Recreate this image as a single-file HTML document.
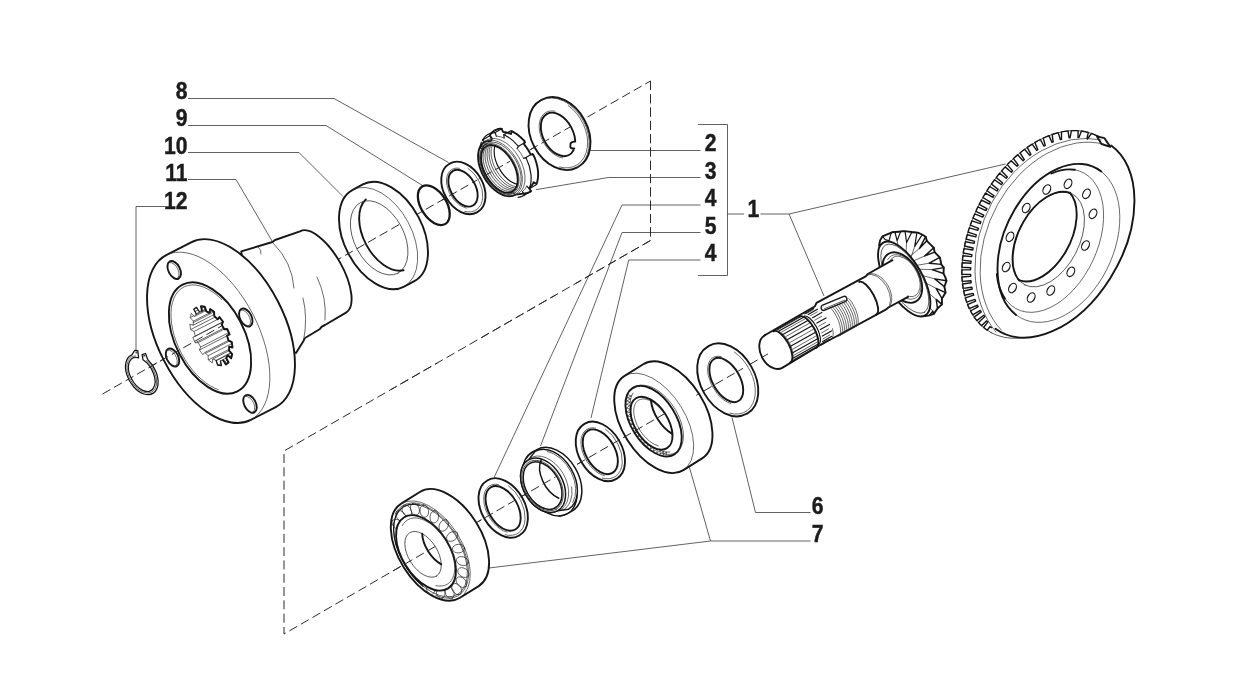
<!DOCTYPE html>
<html><head><meta charset="utf-8"><title>Exploded view</title>
<style>
html,body{margin:0;padding:0;background:#fff}
svg{display:block}
.k{stroke:#161616;stroke-width:1.9;fill:none;stroke-linejoin:round;stroke-linecap:round}
.s5 .k{stroke-width:1.5}
.m{stroke:#161616;stroke-width:1.2;fill:none;stroke-linejoin:round;stroke-linecap:round}
.t{stroke:#2a2a2a;stroke-width:.7;fill:none;stroke-linejoin:round;stroke-linecap:round}
.l{stroke:#3a3a3a;stroke-width:.8;fill:none}
.d{stroke:#2a2a2a;stroke-width:1;fill:none;stroke-dasharray:9 4.3}
.dt{stroke:#2a2a2a;stroke-width:.8;fill:none;stroke-dasharray:8 4}
text{filter:grayscale(1);font-family:"Liberation Sans",sans-serif;font-weight:bold;fill:#1c1c1c;stroke:#1c1c1c;stroke-width:.45}
</style></head><body>
<svg width="1236" height="680" viewBox="0 0 1236 680">
<rect width="1236" height="680" fill="#fff"/>
<path class="d" d="M102.5 394L650.5 81"/>
<path class="d" d="M650.5 81L650.5 240.5L284 451L284 634L770 352.7"/>
<path class="l" d="M188 98.5L334 98.5L448.5 162.5"/>
<path class="l" d="M188 125.5L326 125.5L424 186.5"/>
<path class="l" d="M188 152.5L299 152.5L343 196.5"/>
<path class="l" d="M188 179.5L236 179.5L273.5 243.5"/>
<path class="l" d="M165 206.5L136 206.5L136 351"/>
<path class="l" d="M700.5 150.5L590 150.5"/>
<path class="l" d="M700.5 177.5L608.3 177.5L535.8 189.7"/>
<path class="l" d="M700.5 205L622 205L494.3 477"/>
<path class="l" d="M700.5 232.5L622 232.5L540.5 446"/>
<path class="l" d="M700.5 260L628.7 260L591 418"/>
<path class="l" d="M698 124.5L727.5 124.5L727.5 275.5L698 275.5"/>
<path class="l" d="M727.5 214L744 214"/>
<path class="l" d="M760.5 214L789 214L1005.5 164"/>
<path class="l" d="M789 214L824 296"/>
<path class="l" d="M810.5 512.5L755.5 512.5L732 417.5"/>
<path class="l" d="M810.5 541L710.5 541L689.5 467.5"/>
<path class="l" d="M710.5 541L489 568"/>
<text transform="translate(187.5 98.5) scale(0.88 1)" text-anchor="end" font-size="24">8</text>
<text transform="translate(187.5 126) scale(0.88 1)" text-anchor="end" font-size="24">9</text>
<text transform="translate(187.5 153.5) scale(0.88 1)" text-anchor="end" font-size="24">10</text>
<text transform="translate(187.5 181) scale(0.88 1)" text-anchor="end" font-size="24">11</text>
<text transform="translate(187.5 208.5) scale(0.88 1)" text-anchor="end" font-size="24">12</text>
<text transform="translate(704.8 151) scale(0.88 1)" text-anchor="start" font-size="24">2</text>
<text transform="translate(704.8 178.5) scale(0.88 1)" text-anchor="start" font-size="24">3</text>
<text transform="translate(704.8 206) scale(0.88 1)" text-anchor="start" font-size="24">4</text>
<text transform="translate(704.8 233.5) scale(0.88 1)" text-anchor="start" font-size="24">5</text>
<text transform="translate(704.8 261) scale(0.88 1)" text-anchor="start" font-size="24">4</text>
<text transform="translate(747.6 216.5) scale(0.88 1)" text-anchor="start" font-size="24">1</text>
<text transform="translate(811.8 514) scale(0.88 1)" text-anchor="start" font-size="24">6</text>
<text transform="translate(811.8 541.5) scale(0.88 1)" text-anchor="start" font-size="24">7</text>
<path class="k" style="fill:#fff" d="M541 100.2A38.2 27.8 62 0 0 534.4 147A38.2 27.8 62 0 0 576.8 167.6L578 167A38.2 27.8 62 0 0 584.6 120.2A38.2 27.8 62 0 0 542.1 99.6Z"/>
<path class="t" d="M576.8 167.6A38.2 27.8 62 0 0 583.4 120.8A38.2 27.8 62 0 0 541 100.2"/>
<path class="t" d="M559.5 167A36 26.2 62 0 0 568.2 105.6"/>
<ellipse class="k" style="fill:#fff;" cx="558" cy="134.4" rx="23.3" ry="15" transform="rotate(62 558 134.4)"/>
<path class="t" d="M555 111.2A25.3 16.6 62 0 0 539.5 131A25.3 16.6 62 0 0 562.6 157.9"/>
<path d="M576.7 141.5 L571.2 142.5 L570.2 148.4 L575.7 149.4 Z" style="fill:#fff;stroke:none"/>
<path class="k" d="M575.2 141.5 Q569.7 142 570.5 145 Q569.2 148.9 574.2 148.4"/>
<path class="k" style="fill:#fff" d="M449.1 164A27.9 19.3 60 0 0 446.3 197.8A27.9 19.3 60 0 0 476.9 212.4L477.7 211.9A27.9 19.3 60 0 0 480.5 178.1A27.9 19.3 60 0 0 449.8 163.6Z"/>
<path class="t" d="M464.7 211.4A25.6 17.6 60 0 0 468.1 168.3"/>
<ellipse class="k" style="fill:#fff;" cx="463" cy="188.2" rx="20" ry="12.4" transform="rotate(60 463 188.2)"/>
<path class="t" d="M459.4 168.3A22 14 60 0 0 446.8 184.8A22 14 60 0 0 466.3 208.3"/>
<ellipse class="k" style="stroke-width:2.3;" cx="433.8" cy="205.2" rx="22" ry="12.8" transform="rotate(58 433.8 205.2)"/>
<path class="k" style="fill:#fff" d="M707.8 346.6A38.8 26.4 60 0 0 704.3 393.4A38.8 26.4 60 0 0 746.6 413.8L747.7 413.2A38.8 26.4 60 0 0 751.2 366.4A38.8 26.4 60 0 0 708.9 345.9Z"/>
<path class="t" d="M729.9 413.2A36.5 24.7 60 0 0 734.3 352"/>
<ellipse class="k" style="fill:#fff;" cx="726.3" cy="380" rx="24.3" ry="13.6" transform="rotate(60 726.3 380)"/>
<path class="t" d="M721.3 356.6A26.3 15.2 60 0 0 708.2 375.3A26.3 15.2 60 0 0 730.9 403.6"/>
<path class="k" style="fill:#fff" d="M584.1 424.1A31.8 21.2 60 0 0 581.6 462.2A31.8 21.2 60 0 0 615.9 479.1L616.7 478.7A31.8 21.2 60 0 0 619.1 440.6A31.8 21.2 60 0 0 584.9 423.6Z"/>
<path class="t" d="M602.4 478.1A29.5 19.5 60 0 0 605.4 429"/>
<ellipse class="k" style="fill:#fff;" cx="600.3" cy="451.8" rx="24.4" ry="14.6" transform="rotate(60 600.3 451.8)"/>
<path class="t" d="M595.7 428.1A26.4 16.2 60 0 0 581.4 447.5A26.4 16.2 60 0 0 604.5 475.8"/>
<path class="k" style="fill:#fff" d="M486.9 480.7A31.8 21.2 60 0 0 484.4 518.8A31.8 21.2 60 0 0 518.7 535.7L519.5 535.3A31.8 21.2 60 0 0 521.9 497.1A31.8 21.2 60 0 0 487.7 480.2Z"/>
<path class="t" d="M505.2 534.7A29.5 19.5 60 0 0 508.2 485.6"/>
<ellipse class="k" style="fill:#fff;" cx="503.1" cy="508.4" rx="24.4" ry="14.6" transform="rotate(60 503.1 508.4)"/>
<path class="t" d="M498.5 484.6A26.4 16.2 60 0 0 484.2 504.1A26.4 16.2 60 0 0 507.3 532.3"/>
<path class="k" style="fill:#fff" d="M352.7 189.8A54.8 33.8 62 0 0 348.6 254.1A54.8 33.8 62 0 0 404.1 286.6L414.3 281.2A54.8 33.8 62 0 0 418.4 216.9A54.8 33.8 62 0 0 362.8 184.4Z"/>
<path class="t" d="M404.1 286.6A54.8 33.8 62 0 0 408.2 222.3A54.8 33.8 62 0 0 352.7 189.8"/>
<ellipse class="t" style="fill:#fff;" cx="379.2" cy="237.9" rx="40" ry="24.8" transform="rotate(62 379.2 237.9)"/>
<path class="k" d="M365.8 199.4A40.8 25.4 62 0 0 403.5 270.3"/>
<path class="k" style="fill:#fff" d="M241.3 251.3L272.5 242L275 240L300 231.4A46.7 19.5 60.5 0 1 340 262.4A46.7 19.5 60.5 0 1 346 312.6L325 325Q321 326.5 320 329L307.5 336.5Q304 338 303.5 341L296 353L250 330Z"/>
<path class="t" d="M273.5 243.5Q292 262 294 288"/>
<path class="t" d="M258 247Q262 250 261 254"/>
<path class="t" d="M317 277Q327 298 325 320"/>
<path class="t" d="M303.5 341Q308 318 303 298"/>
<path class="k" style="fill:#fff" d="M166.2 255.1A92.6 50.2 62.8 0 0 163.9 360.4A92.6 50.2 62.8 0 0 250.8 419.9L275.7 407.1A92.6 50.2 62.8 0 0 278.1 301.8A92.6 50.2 62.8 0 0 191.1 242.3Z"/>
<path class="t" d="M250.8 419.9A92.6 50.2 62.8 0 0 253.1 314.6A92.6 50.2 62.8 0 0 166.2 255.1"/>
<ellipse class="k" cx="210" cy="338" rx="60" ry="34.5" transform="rotate(62.8 210 338)"/>
<path class="t" d="M221.9 299.6A57.5 32.5 62.8 0 0 171 312.3A57.5 32.5 62.8 0 0 218.3 389.7"/>
<ellipse class="k" style="fill:#fff;" cx="174.2" cy="270" rx="9.6" ry="5.8" transform="rotate(62.8 174.2 270)"/>
<path class="t" d="M176.1 279.1A9 5.2 62.8 0 0 178.1 269.8A9 5.2 62.8 0 0 169.6 262.5"/>
<ellipse class="k" style="fill:#fff;" cx="245.8" cy="317.5" rx="9.6" ry="5.8" transform="rotate(62.8 245.8 317.5)"/>
<path class="t" d="M247.6 326.6A9 5.2 62.8 0 0 249.6 317.3A9 5.2 62.8 0 0 241.1 310"/>
<ellipse class="k" style="fill:#fff;" cx="172.5" cy="357.5" rx="9.6" ry="5.8" transform="rotate(62.8 172.5 357.5)"/>
<path class="t" d="M174.3 366.6A9 5.2 62.8 0 0 176.4 357.3A9 5.2 62.8 0 0 167.9 350"/>
<ellipse class="k" style="fill:#fff;" cx="250" cy="403.8" rx="9.6" ry="5.8" transform="rotate(62.8 250 403.8)"/>
<path class="t" d="M251.8 412.8A9 5.2 62.8 0 0 253.9 403.6A9 5.2 62.8 0 0 245.4 396.3"/>
<clipPath id="splc"><path d="M225.9 364.5L225.9 364.5L228.6 362.5L226.2 358L227.8 355.4L231.2 358.3L231.2 358.3L232.2 354.2L229.1 350.6L229.2 346.6L232.5 347.5L232.5 347.5L231.8 342.2L228.4 340.3L227 335.6L229.6 334.5L229.6 334.5L227.2 329L224.3 329.2L221.7 324.8L223 321.8L223 321.8L219.5 317.1L217.6 319.3L214.3 316.1L214.1 311.8L214.1 311.8L210.1 309L209.6 312.8L206.3 311.4L204.7 306.6L204.7 306.6L201 306.2L202 310.8L199.2 311.5L196.5 307.3L196.5 307.3L193.8 309.3L196.2 313.8L194.6 316.4L191.2 313.5L191.2 313.5L190.2 317.6L193.3 321.2L193.2 325.2L189.9 324.3L189.9 324.3L190.6 329.6L194 331.5L195.4 336.2L192.8 337.3L192.8 337.3L195.2 342.8L198.1 342.6L200.7 347L199.4 350L199.4 350L202.9 354.7L204.8 352.5L208.1 355.7L208.3 360L208.3 360L212.3 362.8L212.8 359L216.1 360.4L217.7 365.2L217.7 365.2L221.4 365.6L220.4 361L223.2 360.3Z"/></clipPath>
<path class="t" style="fill:#fff" d="M225.9 364.5L225.9 364.5L228.6 362.5L226.2 358L227.8 355.4L231.2 358.3L231.2 358.3L232.2 354.2L229.1 350.6L229.2 346.6L232.5 347.5L232.5 347.5L231.8 342.2L228.4 340.3L227 335.6L229.6 334.5L229.6 334.5L227.2 329L224.3 329.2L221.7 324.8L223 321.8L223 321.8L219.5 317.1L217.6 319.3L214.3 316.1L214.1 311.8L214.1 311.8L210.1 309L209.6 312.8L206.3 311.4L204.7 306.6L204.7 306.6L201 306.2L202 310.8L199.2 311.5L196.5 307.3L196.5 307.3L193.8 309.3L196.2 313.8L194.6 316.4L191.2 313.5L191.2 313.5L190.2 317.6L193.3 321.2L193.2 325.2L189.9 324.3L189.9 324.3L190.6 329.6L194 331.5L195.4 336.2L192.8 337.3L192.8 337.3L195.2 342.8L198.1 342.6L200.7 347L199.4 350L199.4 350L202.9 354.7L204.8 352.5L208.1 355.7L208.3 360L208.3 360L212.3 362.8L212.8 359L216.1 360.4L217.7 365.2L217.7 365.2L221.4 365.6L220.4 361L223.2 360.3Z"/>
<g clip-path="url(#splc)">
<path class="t" d="M193.8 309.3L247.2 281.8"/>
<path class="t" d="M196.2 313.8L249.5 286.4"/>
<path class="t" d="M194.6 316.4L247.9 289"/>
<path class="t" d="M191.2 313.5L244.6 286.1"/>
<path class="t" d="M190.2 317.6L243.5 290.2"/>
<path class="t" d="M193.3 321.2L246.7 293.7"/>
<path class="t" d="M193.2 325.2L246.5 297.8"/>
<path class="t" d="M189.9 324.3L243.3 296.8"/>
<path class="t" d="M190.6 329.6L244 302.2"/>
<path class="t" d="M194 331.5L247.4 304"/>
<path class="t" d="M195.4 336.2L248.7 308.7"/>
<path class="t" d="M192.8 337.3L246.2 309.9"/>
<path class="t" d="M195.2 342.8L248.6 315.4"/>
<path class="t" d="M198.1 342.6L251.5 315.2"/>
<path class="t" d="M200.7 347L254.1 319.6"/>
<path class="t" d="M199.4 350L252.8 322.6"/>
<path class="t" d="M202.9 354.7L256.3 327.3"/>
<path class="t" d="M204.8 352.5L258.2 325"/>
<path class="t" d="M208.1 355.7L261.5 328.3"/>
<path class="t" d="M208.3 360L261.6 332.5"/>
<path class="t" d="M212.3 362.8L265.7 335.4"/>
<path class="t" d="M212.8 359L266.1 331.6"/>
<path class="t" d="M216.1 360.4L269.5 333"/>
<path class="t" d="M217.7 365.2L271.1 337.7"/>
<path class="t" d="M221.4 365.6L274.8 338.2"/>
<path class="t" d="M220.4 361L273.8 333.6"/>
</g>
<path class="k" d="M223.2 360.3L225.9 364.5L225.9 364.5L228.6 362.5L226.2 358L227.8 355.4L231.2 358.3L231.2 358.3L232.2 354.2L229.1 350.6L229.2 346.6L232.5 347.5L232.5 347.5L231.8 342.2L228.4 340.3L227 335.6L229.6 334.5L229.6 334.5L227.2 329L224.3 329.2L221.7 324.8L223 321.8L223 321.8L219.5 317.1L217.6 319.3L214.3 316.1L214.1 311.8L214.1 311.8L210.1 309L209.6 312.8L206.3 311.4L204.7 306.6L204.7 306.6L201 306.2L202 310.8"/>
<path class="m" d="M199.2 311.5L196.5 307.3L196.5 307.3L193.8 309.3L196.2 313.8"/>
<path class="m" d="M216.1 360.4L217.7 365.2L217.7 365.2L221.4 365.6L220.4 361"/>
<path class="k" style="fill:#fff" d="M624.6 375.9A55.5 31.6 58 0 0 627.2 439.7A55.5 31.6 58 0 0 683.4 470.1L702.1 458.4A55.5 31.6 58 0 0 699.5 394.6A55.5 31.6 58 0 0 643.2 364.3Z"/>
<path class="t" d="M683.4 470.1A55.5 31.6 58 0 0 680.8 406.3A55.5 31.6 58 0 0 624.6 375.9"/>
<ellipse class="k" style="fill:#fff;" cx="653.6" cy="421.1" rx="39.2" ry="22.4" transform="rotate(58 653.6 421.1)"/>
<path class="t" d="M632.9 393.1A36 20.4 58 0 0 669.7 452.1"/>
<path class="t" d="M661.9 453.3A38.6 22 58 0 0 679.1 417A38.6 22 58 0 0 633.8 388.2"/>
<path class="t" d="M628.5 394.9L631.3 396"/>
<path class="t" d="M631.3 396L627.5 397.7"/>
<path class="t" d="M627.5 397.7L630.4 398.9"/>
<path class="t" d="M630.4 398.9L626.8 400.9"/>
<path class="t" d="M626.8 400.9L630 402.1"/>
<path class="t" d="M630 402.1L626.5 404.4"/>
<path class="t" d="M626.5 404.4L629.9 405.5"/>
<path class="t" d="M629.9 405.5L626.6 408.1"/>
<path class="t" d="M626.6 408.1L630.3 409.2"/>
<path class="t" d="M630.3 409.2L627.2 412"/>
<path class="t" d="M627.2 412L631 413"/>
<path class="t" d="M631 413L628.1 416.1"/>
<path class="t" d="M628.1 416.1L632 417"/>
<path class="t" d="M632 417L629.4 420.2"/>
<path class="t" d="M629.4 420.2L633.5 420.9"/>
<path class="t" d="M633.5 420.9L631.1 424.4"/>
<path class="t" d="M631.1 424.4L635.2 424.9"/>
<path class="t" d="M635.2 424.9L633.1 428.5"/>
<path class="t" d="M633.1 428.5L637.3 428.8"/>
<path class="t" d="M637.3 428.8L635.4 432.5"/>
<path class="t" d="M635.4 432.5L639.6 432.5"/>
<path class="t" d="M639.6 432.5L637.9 436.3"/>
<path class="t" d="M637.9 436.3L642.2 436.1"/>
<path class="t" d="M642.2 436.1L640.8 439.9"/>
<path class="t" d="M640.8 439.9L645 439.4"/>
<path class="t" d="M645 439.4L643.8 443.2"/>
<path class="t" d="M643.8 443.2L647.9 442.4"/>
<path class="t" d="M647.9 442.4L646.9 446.2"/>
<path class="t" d="M646.9 446.2L651 445.1"/>
<path class="t" d="M651 445.1L650.2 448.8"/>
<path class="t" d="M650.2 448.8L654.1 447.4"/>
<path class="t" d="M654.1 447.4L653.5 451"/>
<path class="t" d="M653.5 451L657.3 449.3"/>
<path class="t" d="M657.3 449.3L656.8 452.8"/>
<path class="t" d="M656.8 452.8L660.4 450.8"/>
<path class="t" d="M660.4 450.8L660 454"/>
<path class="t" d="M660 454L663.5 451.8"/>
<path class="t" d="M663.5 451.8L663.2 454.8"/>
<path class="t" d="M663.2 454.8L666.5 452.3"/>
<path class="t" d="M666.5 452.3L666.2 455.1"/>
<ellipse class="k" style="fill:#fff;" cx="651.5" cy="423.2" rx="29.4" ry="16.6" transform="rotate(58 651.5 423.2)"/>
<path class="t" d="M662.4 411A26.4 14.8 58 0 0 633.8 408.8A26.4 14.8 58 0 0 658.3 445.9"/>
<path class="k" d="M650.9 399.9A29.4 16.6 58 0 0 672.2 433.9"/>
<path class="k" style="fill:#fff" d="M401.2 503.6A55.5 31.6 58 0 0 403.8 567.4A55.5 31.6 58 0 0 460 597.8L478.7 586.1A55.5 31.6 58 0 0 476.1 522.3A55.5 31.6 58 0 0 419.8 492Z"/>
<path class="t" d="M460 597.8A55.5 31.6 58 0 0 457.4 534A55.5 31.6 58 0 0 401.2 503.6"/>
<path class="t" d="M435.7 595.4A53 30.2 58 0 0 460.7 542.7A53 30.2 58 0 0 395.4 513.9"/>
<ellipse class="t" cx="430.6" cy="550.7" rx="51.5" ry="29.3" transform="rotate(58 430.6 550.7)"/>
<path class="m" d="M419.4 505.1A51.5 29.3 58 0 0 422.7 586"/>
<ellipse class="t" cx="456.7" cy="589.1" rx="6.2" ry="4.3" transform="rotate(55.1 456.7 589.1)"/>
<ellipse class="t" cx="461.5" cy="582.2" rx="6.2" ry="4.3" transform="rotate(44.9 461.5 582.2)"/>
<ellipse class="t" cx="463.4" cy="572.6" rx="6.2" ry="4.3" transform="rotate(32.9 463.4 572.6)"/>
<ellipse class="t" cx="462.5" cy="561.1" rx="6.2" ry="4.3" transform="rotate(17.3 462.5 561.1)"/>
<ellipse class="t" cx="458.6" cy="548.6" rx="6.2" ry="4.3" transform="rotate(-4.8 458.6 548.6)"/>
<ellipse class="t" cx="452.2" cy="536.4" rx="6.2" ry="4.3" transform="rotate(-33.5 452.2 536.4)"/>
<ellipse class="t" cx="443.8" cy="525.4" rx="6.2" ry="4.3" transform="rotate(-61.7 443.8 525.4)"/>
<ellipse class="t" cx="434.3" cy="516.8" rx="6.2" ry="4.3" transform="rotate(-83.1 434.3 516.8)"/>
<ellipse class="t" cx="424.3" cy="511.1" rx="6.2" ry="4.3" transform="rotate(-98.3 424.3 511.1)"/>
<ellipse class="t" cx="414.9" cy="509.1" rx="6.2" ry="4.3" transform="rotate(-110 414.9 509.1)"/>
<ellipse class="t" cx="406.8" cy="510.7" rx="6.2" ry="4.3" transform="rotate(-120 406.8 510.7)"/>
<ellipse class="t" cx="400.8" cy="515.9" rx="6.2" ry="4.3" transform="rotate(-129.9 400.8 515.9)"/>
<ellipse class="t" cx="397.4" cy="524.3" rx="6.2" ry="4.3" transform="rotate(-140.8 397.4 524.3)"/>
<ellipse class="t" cx="430.9" cy="588.5" rx="6.2" ry="4.3" transform="rotate(88.7 430.9 588.5)"/>
<ellipse class="t" cx="440.7" cy="592.4" rx="6.2" ry="4.3" transform="rotate(75.6 440.7 592.4)"/>
<ellipse class="t" cx="449.6" cy="592.6" rx="6.2" ry="4.3" transform="rotate(64.9 449.6 592.6)"/>
<ellipse class="k" style="fill:#fff;" cx="426" cy="552.9" rx="41.8" ry="23.8" transform="rotate(58 426 552.9)"/>
<path class="t" d="M435.9 585.6A38 21.6 58 0 0 447.6 543.4A38 21.6 58 0 0 402.4 525.6"/>
<ellipse class="t" style="fill:#fff;" cx="423.1" cy="554.4" rx="25.5" ry="14.5" transform="rotate(58 423.1 554.4)"/>
<path class="k" d="M422.2 533.7A25.5 14.5 58 0 0 441.3 564.3"/>
<ellipse class="t" style="fill:#fff;" cx="1044.7" cy="234.5" rx="111.8" ry="72" transform="rotate(118.7 1044.7 234.5)"/>
<ellipse cx="1053.6" cy="237.3" rx="108.5" ry="69.6" transform="rotate(119.6 1053.6 237.3)" style="fill:#fff;stroke:none"/>
<path class="k" style="fill:#fff" d="M1097 136.4L1104.5 138.2L1110.3 146.9L1101.5 144Z"/>
<path class="k" style="stroke-width:1.4" d="M1098 136.2L1091.5 133.4L1087.5 139L1086.9 138.8L1088.3 132.4L1081.5 131L1078.9 137.5L1078 137.5L1078.1 130.6L1071.4 130.6L1070.1 137.7L1069.1 137.8L1068 130.9L1061.5 131.9L1061.5 139.2L1060.3 139.5L1058.2 132.6L1052.1 134.5L1053.2 141.9L1052 142.4L1048.9 135.6L1043.2 138.1L1045.3 145.4L1044 146.1L1040.3 139.5L1034.9 142.4L1037.8 149.7L1036.6 150.4L1032.2 144.1L1027.2 147.4L1030.9 154.4L1029.6 155.4L1024.6 149.3L1020.1 152.8L1024.3 159.6L1023.1 160.7L1017.6 154.8L1013.4 158.6L1018.3 165.1L1017 166.3L1011.2 160.7L1007.3 164.6L1012.6 170.9L1011.4 172.2L1005.1 166.9L1001.6 170.9L1007.4 176.9L1006.2 178.3L999.6 173.3L996.3 177.4L1002.6 183.1L1001.4 184.6L994.5 179.8L991.4 184L998.1 189.4L997 191L989.7 186.5L987 190.7L994 195.7L993 197.4L985.4 193.2L982.9 197.5L990.3 202.2L989.3 204L981.5 200.1L979.2 204.4L986.9 208.7L985.9 210.6L977.9 206.9L975.9 211.3L983.7 215.2L982.9 217.1L974.7 213.9L972.9 218.2L980.9 221.8L980.2 223.7L971.9 220.8L970.3 225.2L978.5 228.3L977.8 230.3L969.4 227.8L968 232.1L976.3 234.9L975.8 236.9L967.2 234.7L966.1 239L974.5 241.4L974.1 243.4L965.4 241.7L964.5 246L973.1 248L972.7 250L964 248.6L963.2 253L971.9 254.6L971.6 256.6L962.9 255.7L962.4 260.1L971.1 261.2L970.9 263.2L962.1 262.8L961.9 267.2L970.7 267.8L970.6 269.8L961.8 269.9L961.8 274.3L970.6 274.4L970.7 276.3L961.9 277L962.2 281.4L971 280.8L971.2 282.7L962.5 284L963.1 288.4L971.9 287.2L972.2 289.1L963.6 291L964.6 295.3L973.2 293.4L973.7 295.2L965.3 297.9L966.6 302.1L975 299.4L975.6 301.1L967.5 304.6L969.3 308.6L977.4 305.1L978.2 306.7L970.5 311L972.7 314.8L980.3 310.4L981.2 311.9L974.1 317.1L976.8 320.6L983.7 315.2L984.9 316.6L978.5 322.6L981.6 325.8L986.4 320.9L987.8 322.1L983.6 327.5L987.2 330.2L989.9 326.7L991.5 327.7"/>
<path class="k" d="M1111.2 145.5A108.5 69.6 119.6 0 1 1110.1 278.4A108.5 69.6 119.6 0 1 995.5 328.7"/>
<path class="t" d="M1101 139.9A113.8 89.4 114.4 0 0 995.9 332"/>
<path class="t" d="M1104.1 144.3A108.5 80.3 116.6 0 0 1001.4 330.2"/>
<path class="k" d="M1101.3 171.5A83.9 54.7 115.5 0 0 1014.8 209.3A83.9 54.7 115.5 0 0 1016.1 314.9"/>
<path class="t" d="M1016.1 314.9A83.9 54.7 115.5 0 0 1102.6 277.1A83.9 54.7 115.5 0 0 1101.3 171.5"/>
<path class="t" d="M1003.9 297A76 47.1 115.4 0 0 1089 268.2A76 47.1 115.4 0 0 1074.8 169.8"/>
<path class="k" d="M1074.8 169.8A76 47.1 115.4 0 0 1051.5 173.5"/>
<path class="k" d="M996.8 274.1A76 47.1 115.4 0 0 1004.9 298.5"/>
<ellipse class="m" style="fill:#fff;" cx="1046.8" cy="189.5" rx="5" ry="3.5" transform="rotate(118 1046.8 189.5)"/>
<ellipse class="m" style="fill:#fff;" cx="1068" cy="183.8" rx="5" ry="3.5" transform="rotate(118 1068 183.8)"/>
<ellipse class="m" style="fill:#fff;" cx="1086.5" cy="193.8" rx="5" ry="3.5" transform="rotate(118 1086.5 193.8)"/>
<ellipse class="m" style="fill:#fff;" cx="1093" cy="213.8" rx="5" ry="3.5" transform="rotate(118 1093 213.8)"/>
<ellipse class="m" style="fill:#fff;" cx="1085.5" cy="245.5" rx="5" ry="3.5" transform="rotate(118 1085.5 245.5)"/>
<ellipse class="m" style="fill:#fff;" cx="1070.8" cy="271.8" rx="5" ry="3.5" transform="rotate(118 1070.8 271.8)"/>
<ellipse class="m" style="fill:#fff;" cx="1050.8" cy="290.5" rx="5" ry="3.5" transform="rotate(118 1050.8 290.5)"/>
<ellipse class="m" style="fill:#fff;" cx="1031.2" cy="297.5" rx="5" ry="3.5" transform="rotate(118 1031.2 297.5)"/>
<ellipse class="m" style="fill:#fff;" cx="1012.5" cy="288" rx="5" ry="3.5" transform="rotate(118 1012.5 288)"/>
<ellipse class="m" style="fill:#fff;" cx="1006.2" cy="267" rx="5" ry="3.5" transform="rotate(118 1006.2 267)"/>
<ellipse class="m" style="fill:#fff;" cx="1010" cy="236.8" rx="5" ry="3.5" transform="rotate(118 1010 236.8)"/>
<ellipse class="m" style="fill:#fff;" cx="1026.2" cy="208" rx="5" ry="3.5" transform="rotate(118 1026.2 208)"/>
<ellipse class="t" style="fill:#fff;" cx="1048.5" cy="239.4" rx="51.3" ry="30.5" transform="rotate(117.5 1048.5 239.4)"/>
<path class="k" d="M1070.2 193.1A51.3 30.5 117.5 0 0 1019.3 280.6"/>
<path class="k" d="M1018.9 280.2A51.3 30.5 117.5 0 0 1069.8 192.6"/>
<path class="k" style="fill:#fff" d="M879.1 245.5L880.1 240.4L882.4 236.4L886 234.9L891.9 232.3L898.5 231.7L904.4 231.1L911.8 232L917.9 232.6L922.1 234.5L925.7 236.7L926.8 240.8L930.1 244.1L933.8 247.7L934.6 252.1L937.5 255.1L939.7 257.3L940.7 261L941.2 264.4L943.8 267.6L943.5 273.5L945.3 277.1L946.5 280.8L944.4 286.7L945.6 292.6L942.9 297L941.9 298.5L941.9 304.4L937.5 308.5L933.8 313.9L929.4 315.4L925 316.1"/>
<path class="k" style="stroke-width:1.45" d="M925.7 236.7L919.4 248.5L926.8 240.8"/>
<path class="t" d="M919.4 248.5L910.1 256.2"/>
<path class="k" style="stroke-width:1.45" d="M933.8 247.7L924.9 255.9L934.6 252.1"/>
<path class="t" d="M924.9 255.9L913.8 260.8"/>
<path class="k" style="stroke-width:1.45" d="M939.7 257.3L929.3 263.2L941.2 264.4"/>
<path class="t" d="M929.3 263.2L916.9 265.3"/>
<path class="k" style="stroke-width:1.45" d="M943.8 267.6L932.1 269.6L943.5 273.5"/>
<path class="t" d="M932.1 269.6L919.4 269.3"/>
<path class="k" style="stroke-width:1.45" d="M946.5 280.8L934.8 278.9L944.4 286.7"/>
<path class="t" d="M934.8 278.9L922.8 275.6"/>
<path class="k" style="stroke-width:1.45" d="M945.6 292.6L936.1 288.4L941.9 298.5"/>
<path class="t" d="M936.1 288.4L926.2 283.2"/>
<path class="k" style="stroke-width:1.45" d="M941.9 304.4L936.2 299.4L937.5 308.5"/>
<path class="t" d="M936.2 299.4L929.4 293.9"/>
<path class="k" style="stroke-width:1.45" d="M933.8 313.9L932.8 311.1L929.4 315.4"/>
<path class="t" d="M932.8 311.1L930 307.7"/>
<path class="m" d="M882.4 236.4L885.3 239.6L889 240.8L891.2 232.6L894.9 232L897.1 240.7L900.7 231.4L905.1 231.3L906.6 242.6L911.8 232.3L916.9 232.7L914.7 246.3L922.1 234.9"/>
<path class="t" d="M889 240.8L889.3 241.7"/>
<path class="t" d="M897.1 240.7L897.9 245.2"/>
<path class="t" d="M906.6 242.6L906 251.8"/>
<path class="t" d="M914.7 246.3L911.1 257.4"/>
<ellipse class="k" style="fill:#fff;" cx="904.2" cy="279" rx="42" ry="18" transform="rotate(60 904.2 279)"/>
<ellipse class="t" cx="904.9" cy="278.7" rx="38.8" ry="16.4" transform="rotate(60 904.9 278.7)"/>
<ellipse class="k" style="fill:#fff;" cx="902.3" cy="277.6" rx="27.5" ry="16.6" transform="rotate(60 902.3 277.6)"/>
<path class="t" d="M904.8 297.8A24.5 14.6 60 0 0 918.1 273.4A24.5 14.6 60 0 0 887.7 259.5"/>
<path class="t" d="M905.5 295.2A22 13 60 0 0 917.3 273.3A22 13 60 0 0 890.1 260.7"/>
<path d="M764.8 335.3L815 306.2L816.5 302.8L865.7 276.4L867.8 274L892.5 260.2L908 296.8L888.4 307.5L885.3 309.9L831.5 339L826 341.5L782.2 367.9A18.5 12.8 62 0 1 762.2 357.6A18.5 12.8 62 0 1 764.8 335.3Z" style="fill:#fff;stroke:none"/>
<path class="k" d="M764.8 335.3L815 306.2L816.5 302.8L865.7 276.4L867.8 274L892.5 260.2"/>
<path class="k" d="M908 296.8L888.4 307.5L885.3 309.9L831.5 339L826 341.5L782.2 367.9A18.5 12.8 62 0 1 762.2 357.6A18.5 12.8 62 0 1 764.8 335.3"/>
<path class="k" d="M859.2 281.9A18.3 6.6 62 0 1 873.6 295A18.3 6.6 62 0 1 876.3 314.3"/>
<path class="t" d="M867.3 274.6A19.9 12.3 60 0 1 888 285.7A19.9 12.3 60 0 1 887.2 309"/>
<path class="t" d="M867 274.9A19.9 12 60 0 1 886.6 286.5A19.9 12 60 0 1 886.9 309.3"/>
<path class="k" d="M773.5 331.3A17.7 7.4 62 0 1 788.3 343.4A17.7 7.4 62 0 1 790.1 362.6"/>
<path class="t" d="M777.1 331A16.5 6.6 62 0 1 792.3 359.6"/>
<path class="m" d="M791 362L816.8 347.3"/>
<path class="t" d="M793.4 359.7L817.8 345.9"/>
<path class="m" d="M792.5 358.6L818.3 343.9"/>
<path class="t" d="M794.1 355.2L818.4 341.4"/>
<path class="m" d="M792.2 353.1L818.1 338.5"/>
<path class="t" d="M792.9 349.1L817.2 335.3"/>
<path class="m" d="M790.1 346.6L816 332"/>
<path class="t" d="M790 342.5L814.4 328.7"/>
<path class="m" d="M786.7 340.1L812.5 325.5"/>
<path class="t" d="M786.1 336.4L810.5 322.6"/>
<path class="m" d="M782.4 334.8L808.3 320.2"/>
<path class="t" d="M781.7 332L806.1 318.2"/>
<path class="m" d="M778.1 331.5L804 316.9"/>
<path class="t" d="M777.6 330L802 316.2"/>
<path class="m" d="M774.4 330.9L800.3 316.2"/>
<path class="k" d="M799.6 316.5A17.7 7.4 62 0 1 814.4 328.7A17.7 7.4 62 0 1 816.2 347.8"/>
<path class="m" d="M804.5 316.1A15.7 6 62 0 1 819.2 343.7"/>
<path class="m" d="M821.2 344.9L830.3 339.7"/>
<path class="t" d="M822.2 343.5L829.1 339.5"/>
<path class="m" d="M822.7 341.5L831.8 336.3"/>
<path class="t" d="M822.8 339L829.7 335"/>
<path class="m" d="M822.4 336.1L831.5 330.9"/>
<path class="t" d="M821.6 332.9L828.5 328.9"/>
<path class="m" d="M820.4 329.5L829.5 324.4"/>
<path class="t" d="M818.8 326.2L825.7 322.3"/>
<path class="m" d="M816.9 323L826 317.9"/>
<path class="t" d="M814.8 320.2L821.8 316.2"/>
<path class="m" d="M812.6 317.7L821.8 312.5"/>
<path class="t" d="M810.4 315.7L817.4 311.8"/>
<path class="m" d="M808.3 314.4L817.4 309.2"/>
<path class="t" d="M806.3 313.8L813.3 309.8"/>
<path class="m" d="M804.7 313.8L813.8 308.6"/>
<path class="t" d="M832.5 328.6A17.7 7.4 62 0 1 831 339.4"/>
<rect class="k" style="stroke-width:1.4;fill:#fff" x="-13.8" y="-2.7" width="27.6" height="5.4" rx="2.7" transform="translate(834 303.4) rotate(-22.8)"/>
<path class="t" d="M-11 1.2L11 1.2" transform="translate(834 303.4) rotate(-22.8)"/>
<path class="t" d="M831.4 308.7A19.2 8.2 62 0 1 838.5 336.9"/>
<path class="t" d="M833.3 307.6A19.2 8.2 62 0 1 840.4 335.8"/>
<path class="t" d="M835.3 306.5A19.2 8.2 62 0 1 842.4 334.7"/>
<path class="t" d="M837.3 305.4A19.2 8.2 62 0 1 844.4 333.5"/>
<path class="t" d="M839.3 304.3A19.2 8.2 62 0 1 846.4 332.4"/>
<path class="t" d="M841.2 303.1A19.2 8.2 62 0 1 848.3 331.3"/>
<path class="t" d="M843.2 302A19.2 8.2 62 0 1 850.3 330.2"/>
<path class="t" d="M845.2 300.9A19.2 8.2 62 0 1 852.3 329.1"/>
<path class="t" d="M847.2 299.8A19.2 8.2 62 0 1 854.3 328"/>
<path class="t" d="M849.1 298.7A19.2 8.2 62 0 1 856.2 326.8"/>
<path class="k" style="stroke-width:1.25;fill:#fff" d="M131.9 354.8L134.7 350.4L137.8 350.6L138.6 357.8A18.5 11.1 60 0 0 131.1 378.1A18.5 11.1 60 0 0 153.4 388.1A18.5 11.1 60 0 0 143 359.8L142.1 354.6L145.5 353.5L147.8 359.8A22 13.9 60 0 1 143.9 394A22 13.9 60 0 1 131.9 354.8Z"/>
<path class="t" d="M135.5 355.8A20.2 12.5 60 0 0 142.6 391.9A20.2 12.5 60 0 0 146.4 360.5"/>
<circle class="t" cx="136.4" cy="352.6" r="0.7"/><circle class="t" cx="144" cy="355.8" r="0.7"/>
<path class="k" style="fill:#fff" d="M485 141.6L483.9 142.3L482.9 143.2L482 144.1L481.2 145.2L480.4 146.4L479.8 147.7L479.2 149.1L478.8 150.6L478.5 152.1L478.2 153.8L478.1 155.5L478.1 157.3L478.2 159.1L478.4 161L478.7 162.9L479.1 164.8L479.6 166.8L480.3 168.8L481 170.7L481.8 172.7L482.7 174.6L483.7 176.5L484.7 178.3L485.9 180.1L487.1 181.9L488.4 183.5L489.7 185.1L491.1 186.7L492.5 188.1L494 189.4L495.5 190.6L497 191.7L498.6 192.7L500.1 193.6L501.7 194.4L503.2 195L504.7 195.5L506.2 195.9L507.7 196.1L509.2 196.2L510.6 196.1L511.9 196L513.2 195.6L514.4 195.2L515.6 194.6L525.1 193.4L525.9 193.3L526.6 193.2L527.4 193L528.1 192.7L528.8 192.4L529.5 192.1L530.1 191.8L530.8 191.4L529.3 187.7L529.9 187.3L530.4 186.9L530.9 186.4L531.3 185.9L531.8 185.3L532.2 184.8L532.6 184.2L533 183.5L533.3 182.9L533.6 182.2L536.5 183.9L536.8 183.1L537.1 182.3L537.3 181.4L537.5 180.5L537.7 179.6L537.8 178.6L538 177.7L538 176.7L538.1 175.7L538.1 174.7L538.1 173.6L538.1 172.6L538 171.5L537.9 170.4L537.8 169.3L537.6 168.2L537.4 167.1L537.2 166L536.9 164.9L536.6 163.7L536.3 162.6L536 161.5L535.6 160.3L535.2 159.2L534.8 158.1L534.3 157L533.8 155.8L533.3 154.7L530.6 154.4L530.1 153.4L529.6 152.5L529.1 151.5L528.5 150.6L527.9 149.6L527.3 148.7L526.7 147.8L526.1 146.9L525.4 146L524.7 145.2L524.1 144.3L524.7 141.4L523.9 140.5L523.1 139.6L522.2 138.8L521.4 138L520.6 137.2L519.7 136.5L518.8 135.7L518 135L517.1 134.4L516.2 133.8L515.3 133.2L514.4 132.6L513.5 132.1L512.6 131.6L511.7 131.1L511 134L510.2 133.6L509.4 133.3L508.6 133L507.8 132.8L507.1 132.6L506.3 132.4L505.5 132.3L504.8 132.2L504 132.1L503.3 132.1L501.3 128.6L500.5 128.7L499.8 128.8L499 128.9L498.2 129L497.5 129.2L496.8 129.5L496.1 129.8L495.4 130.1L494.7 130.4L494.1 130.8L493.5 131.3L492.9 131.7L492.3 132.2L491.8 132.8L491.2 133.3L490.7 134L490.3 134.6L489.8 135.3L491.9 138.7L491.5 139.3L491.2 140L490.9 140.7Z"/>
<path class="m" d="M518.2 197.4A35.4 21.5 60 0 0 524.5 194.9"/>
<path class="m" d="M524.5 194.9L531.4 190.9"/>
<path class="m" d="M524.5 194.9L522.4 191.7"/>
<path class="m" d="M529.2 188.7A35.4 21.5 60 0 0 525.9 157.6"/>
<path class="m" d="M529.2 188.7L536.2 184.7"/>
<path class="m" d="M529.2 188.7L526.7 186.2"/>
<path class="m" d="M525.9 157.6L532.8 153.6"/>
<path class="m" d="M525.9 157.6L523.7 158.4"/>
<path class="m" d="M518.5 146.3A35.4 21.5 60 0 0 503.9 134.7"/>
<path class="m" d="M518.5 146.3L525.4 142.3"/>
<path class="m" d="M518.5 146.3L517.1 148.3"/>
<path class="m" d="M503.9 134.7L510.8 130.7"/>
<path class="m" d="M503.9 134.7L504.1 138"/>
<path class="m" d="M495.2 132.6A35.4 21.5 60 0 0 482.5 140"/>
<path class="m" d="M495.2 132.6L502.2 128.6"/>
<path class="m" d="M495.2 132.6L496.3 136.1"/>
<path class="m" d="M482.5 140L489.4 136"/>
<path class="m" d="M482.5 140L485 142.7"/>
<path class="m" d="M480.1 147.6A35.4 21.5 60 0 1 481.4 142.3"/>
<path class="m" d="M480.1 147.6L487 143.6"/>
<path class="m" d="M480.1 147.6L482.8 149.4"/>
<path class="t" d="M522.4 191.7A31.6 19.2 60 0 0 526.7 186.2"/>
<path class="t" d="M523.7 158.4A31.6 19.2 60 0 0 517.1 148.3"/>
<path class="t" d="M504.1 138A31.6 19.2 60 0 0 496.3 136.1"/>
<path class="t" d="M485 142.7A31.6 19.2 60 0 0 482.8 149.4"/>
<path class="t" d="M512.6 195.8A30.6 18.6 60 0 0 516.4 158.8A30.6 18.6 60 0 0 482.4 143.6"/>
<path class="t" d="M514.3 195.3A31.2 19 60 0 0 518.9 157.3A31.2 19 60 0 0 483.8 142.4"/>
<ellipse class="t" cx="500.6" cy="168.3" rx="28.6" ry="17.2" transform="rotate(60 500.6 168.3)"/>
<ellipse class="k" style="fill:#fff;" cx="499.4" cy="168.9" rx="26.2" ry="14.9" transform="rotate(60 499.4 168.9)"/>
<ellipse class="t" cx="499.4" cy="168.9" rx="27.8" ry="16.2" transform="rotate(60 499.4 168.9)"/>
<clipPath id="nutbore"><ellipse cx="499.4" cy="168.9" rx="26.2" ry="14.9" transform="rotate(60 499.4 168.9)"/></clipPath>
<g clip-path="url(#nutbore)">
<ellipse class="t" cx="501.4" cy="167.8" rx="26.2" ry="14.9" transform="rotate(60 501.4 167.8)"/>
<ellipse class="t" cx="503.4" cy="166.6" rx="26.2" ry="14.9" transform="rotate(60 503.4 166.6)"/>
<ellipse class="t" cx="505.4" cy="165.5" rx="26.2" ry="14.9" transform="rotate(60 505.4 165.5)"/>
<ellipse class="t" cx="507.4" cy="164.3" rx="26.2" ry="14.9" transform="rotate(60 507.4 164.3)"/>
<ellipse class="t" cx="509.4" cy="163.2" rx="26.2" ry="14.9" transform="rotate(60 509.4 163.2)"/>
<ellipse class="m" cx="511.5" cy="161.9" rx="24.8" ry="14" transform="rotate(60 511.5 161.9)"/>
</g>
<g class="s5">
<path class="k" style="fill:#fff" d="M532.1 452.3A35.4 24 60 0 0 529 495A35.4 24 60 0 0 567.5 513.7L572.3 510.9A35.4 24 60 0 0 575.3 468.2A35.4 24 60 0 0 536.9 449.6Z"/>
<path class="k" d="M559.3 515.9A35.4 24 60 0 0 570.6 471A35.4 24 60 0 0 526.1 458.3"/>
<path class="k" style="fill:#fff" d="M528.5 459.9A29.3 19.7 60 0 0 526 495.2A29.3 19.7 60 0 0 557.8 510.7L568.5 509.2A33.4 22.4 60 0 0 571.2 469.1A33.4 22.4 60 0 0 535.1 451.4Z"/>
<path class="t" d="M572.8 502.4A31.6 21 60 0 0 547.2 451.4"/>
<path class="t" d="M562.3 510.1A31.2 20.8 60 0 0 571.7 486.8"/>
<path class="t" d="M559.2 510.6A30.1 20.2 60 0 0 563.2 473.7A30.1 20.2 60 0 0 529.2 458.7"/>
<ellipse class="k" style="fill:#fff;" cx="543.1" cy="485.3" rx="29.3" ry="19.7" transform="rotate(60 543.1 485.3)"/>
<ellipse class="t" cx="542.6" cy="485.6" rx="27.3" ry="18.1" transform="rotate(60 542.6 485.6)"/>
<ellipse class="k" style="fill:#fff;" cx="542.6" cy="485.6" rx="25.6" ry="16.8" transform="rotate(60 542.6 485.6)"/>
<path class="k" d="M541.3 459.6A25.6 16.8 60 0 0 558.8 498.2"/>
</g>
<clipPath id="ax1"><rect x="147" y="0" width="74.5" height="680"/><rect x="347" y="0" width="54" height="680"/><rect x="441.5" y="0" width="35.5" height="680"/><rect x="478.5" y="0" width="31.5" height="680"/><rect x="529" y="0" width="41" height="680"/></clipPath>
<clipPath id="ax3"><rect x="391" y="0" width="46.5" height="680"/><rect x="478" y="0" width="42" height="680"/><rect x="520.6" y="0" width="35" height="680"/><rect x="575.5" y="0" width="41.5" height="680"/><rect x="612.5" y="0" width="55" height="680"/><rect x="696.3" y="0" width="46.7" height="680"/><rect x="759" y="0" width="9" height="680"/></clipPath>
<path class="d" clip-path="url(#ax1)" d="M102.5 394L650.5 81"/>
<path class="d" clip-path="url(#ax3)" d="M650.5 81L650.5 240.5L284 451L284 634L770 352.7"/>
</svg>
</body></html>
